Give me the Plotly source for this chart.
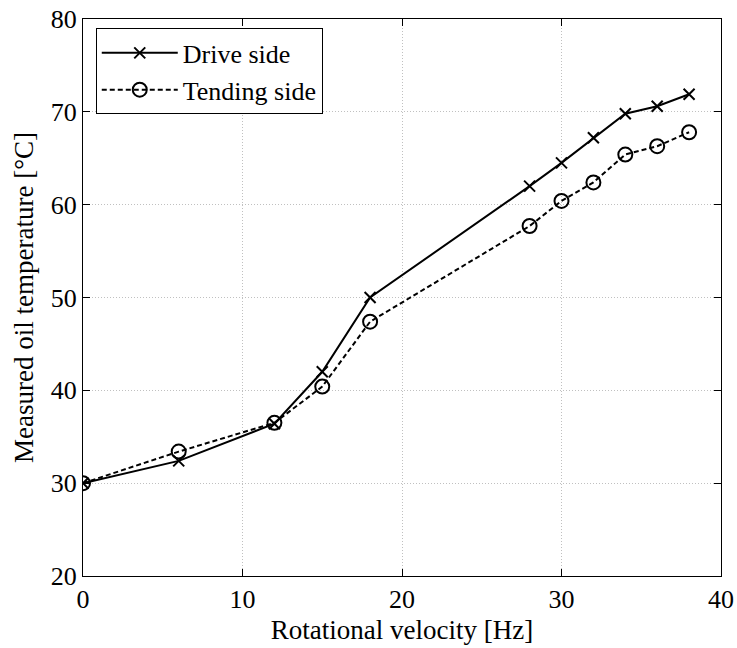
import plotly.graph_objects as go

velocity = [0, 6, 12, 15, 18, 28, 30, 32, 34, 36, 38]
drive_side = [30.0, 32.4, 36.4, 42.0, 50.0, 62.0, 64.5, 67.2, 69.8, 70.6, 71.9]
tending_side = [30.0, 33.4, 36.5, 40.4, 47.4, 57.7, 60.4, 62.4, 65.4, 66.3, 67.8]

font_family = "Liberation Serif, Times New Roman, Times, serif"

fig = go.Figure()
fig.add_trace(go.Scatter(
    x=velocity, y=drive_side, name="Drive side", mode="lines+markers",
    line=dict(color="black", width=2),
    marker=dict(symbol="x-thin", size=11, color="black", line=dict(color="black", width=2)),
))
fig.add_trace(go.Scatter(
    x=velocity, y=tending_side, name="Tending side", mode="lines+markers",
    line=dict(color="black", width=2, dash="5px,3px"),
    marker=dict(symbol="circle-open", size=14, color="black", line=dict(color="black", width=2)),
))

axis_common = dict(
    showline=True, linecolor="black", linewidth=1, mirror="ticks",
    ticks="inside", ticklen=7, tickcolor="black",
    showgrid=True, gridcolor="#c0c0c0", griddash="1px,2px", gridwidth=1,
    zeroline=False, automargin=False,
    tickfont=dict(family=font_family, size=26, color="black"),
    title_font=dict(family=font_family, size=27, color="black"),
)

fig.update_layout(
    width=737, height=648,
    margin=dict(l=83, r=16, t=19, b=72),
    paper_bgcolor="white", plot_bgcolor="white",
    font=dict(family=font_family, size=26, color="black"),
    xaxis=dict(range=[0, 40], dtick=10, title=dict(text="Rotational velocity [Hz]", standoff=6), **axis_common),
    yaxis=dict(range=[20, 80], dtick=10, title=dict(text="Measured oil temperature [°C]", standoff=9), **axis_common),
    legend=dict(
        x=0.02, y=0.983, xanchor="left", yanchor="top",
        bgcolor="white", bordercolor="black", borderwidth=1,
        font=dict(family=font_family, size=26, color="black"),
        tracegroupgap=0, itemwidth=76,
    ),
    showlegend=True,
)

fig.write_html("out.html")
